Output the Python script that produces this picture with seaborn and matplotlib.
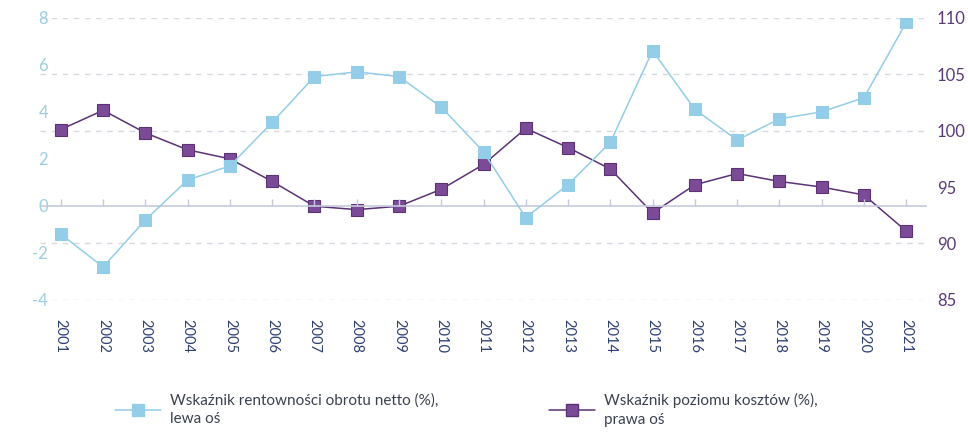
import numpy as np
import pandas as pd
import matplotlib
matplotlib.use('Agg')
import matplotlib.pyplot as plt
import seaborn as sns
from matplotlib.lines import Line2D

# Data
years = [str(y) for y in range(2001, 2022)]
rentownosc = [-1.2, -2.6, -0.6, 1.1, 1.7, 3.55, 5.5, 5.7, 5.5, 4.2, 2.3,
              -0.5, 0.9, 2.7, 6.6, 4.1, 2.8, 3.7, 4.0, 4.6, 7.8]
koszty = [100.1, 101.8, 99.8, 98.3, 97.5, 95.5, 93.3, 93.0, 93.3, 94.8, 97.0,
          100.2, 98.5, 96.6, 92.7, 95.2, 96.2, 95.5, 95.0, 94.3, 91.1]
left_ticks = [-4, -2, 0, 2, 4, 6, 8]
right_ticks = [85, 90, 95, 100, 105, 110]
label_left = 'Wskaźnik rentowności obrotu netto (%),\nlewa oś'
label_right = 'Wskaźnik poziomu kosztów (%),\nprawa oś'

blue = '#93cde8'
purple = '#7c4b98'
purple_edge = '#5b3275'
grid_col = '#d6d9e2'

sns.set_style('white')
plt.rcParams['font.family'] = ['Lato', 'DejaVu Sans']
plt.rcParams['axes.unicode_minus'] = False

df = pd.DataFrame({'idx': np.arange(len(years)), 'year': years,
                   'rent': rentownosc, 'koszt': koszty})

fig = plt.figure(figsize=(9.68, 4.34), dpi=100)
ax = fig.add_axes([0.041, 0.309, 0.917, 0.65])
ax2 = ax.twinx()

# gridlines follow the right axis
for v in right_ticks:
    if v != 95:
        ax2.axhline(v, color=grid_col, lw=1, ls=(0, (4, 4)), zorder=0)
ax.axhline(0, color='#c5c9dc', lw=1.2, zorder=1)
ax.vlines(df['idx'], 0, 0.28, color='#c5c9dc', lw=1, zorder=1)

sns.lineplot(data=df, x='idx', y='rent', ax=ax, color=blue, lw=1.1,
             marker='s', markersize=8, markeredgecolor=blue, zorder=3)
sns.lineplot(data=df, x='idx', y='koszt', ax=ax2, color=purple_edge, lw=1.1,
             marker='s', markersize=8, markerfacecolor=purple,
             markeredgecolor=purple_edge, markeredgewidth=0.8, zorder=4)

ax.set_zorder(ax2.get_zorder() + 1)
ax.patch.set_visible(False)

ax.set_xlim(-0.5, len(years) - 0.5)
ax.set_ylim(-4, 8)
ax2.set_ylim(85, 110)
ax.set_yticks(left_ticks)
ax2.set_yticks(right_ticks)
ax.set_xticks(df['idx'])
ax.set_xticklabels(years, rotation=270, fontsize=10.5, color='#2e3f72')
ax.tick_params(axis='x', length=0, pad=14)
ax.tick_params(axis='y', length=0, labelsize=12, labelcolor='#9ccde4', pad=-6)
ax2.tick_params(axis='y', length=0, labelsize=12, labelcolor='#5a3a78', pad=7)
ax.set_xlabel('')
ax.set_ylabel('')
ax2.set_ylabel('')
for a in (ax, ax2):
    for s in a.spines.values():
        s.set_visible(False)

handles = [
    Line2D([], [], color=blue, lw=1.1, marker='s', markersize=8,
           markeredgecolor=blue),
    Line2D([], [], color=purple_edge, lw=1.1, marker='s', markersize=8,
           markerfacecolor=purple, markeredgecolor=purple_edge),
]
fig.legend(handles, [label_left, label_right], loc='lower left',
           bbox_to_anchor=(0.105, -0.015), ncol=2, frameon=False, fontsize=11,
           labelcolor='#3b4150', handlelength=3, columnspacing=7.2,
           handletextpad=0.6, labelspacing=0.6)
for t in fig.legends[0].get_texts():
    t.set_linespacing(1.45)

fig.savefig('out.png', dpi=100)
